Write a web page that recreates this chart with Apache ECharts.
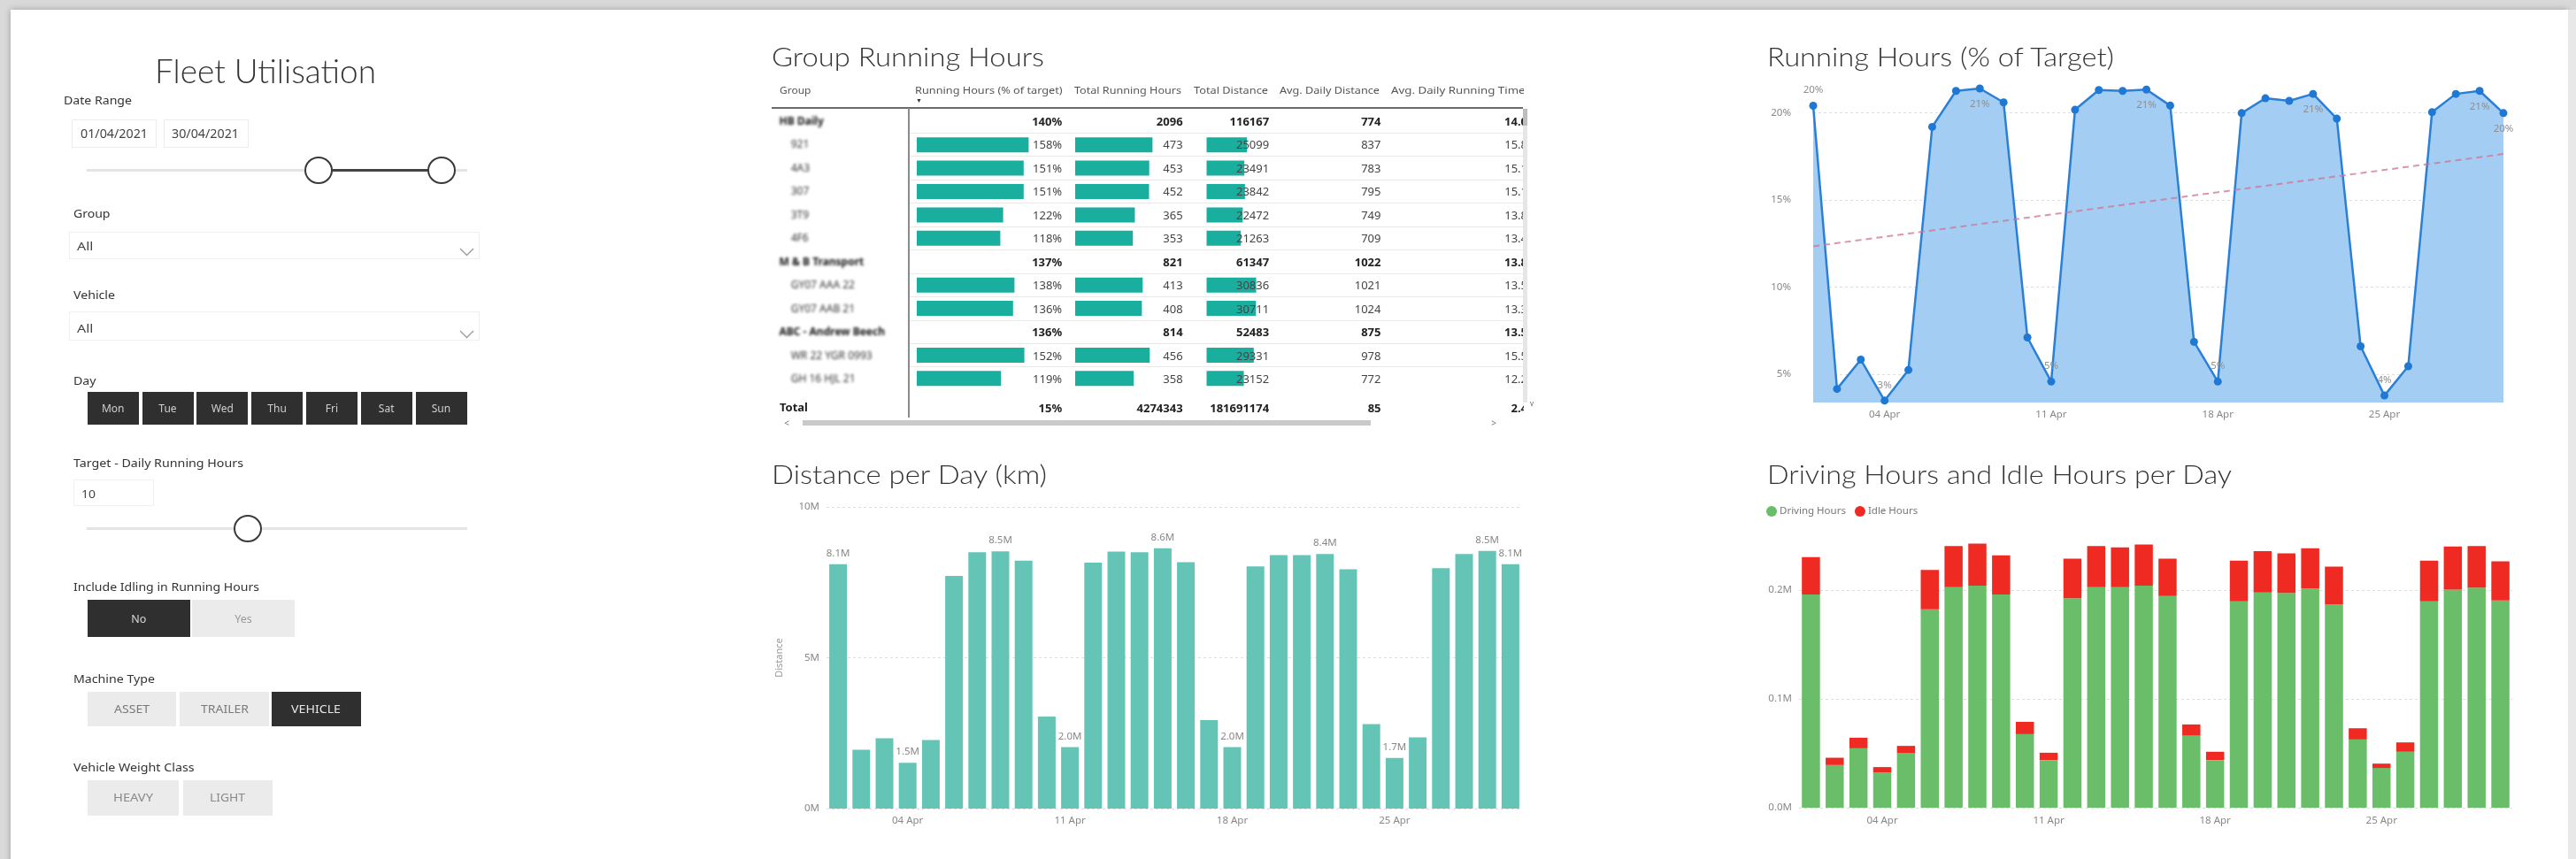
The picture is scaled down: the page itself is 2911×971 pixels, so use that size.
<!DOCTYPE html>
<html>
<head>
<meta charset="utf-8">
<title>Fleet Utilisation</title>
<script src="https://cdn.jsdelivr.net/npm/echarts@6.0.0/dist/echarts.min.js"></script>
<style>
html,body{margin:0;padding:0;}
body{width:2911px;height:971px;overflow:hidden;background:#d9d9d9;position:relative;font-family:'Noto Sans','Open Sans',sans-serif;}
#page{position:absolute;left:12px;top:11px;width:2890px;height:990px;background:#fff;box-shadow:0 0 7px rgba(0,0,0,0.28);}
#rightband{position:absolute;left:2902px;top:11px;width:9px;height:971px;background:#e8e8e8;}
#chart{position:absolute;left:0;top:0;width:2911px;height:971px;z-index:1;}
#ui{position:absolute;left:0;top:0;width:2911px;height:971px;z-index:2;pointer-events:none;}
.t{position:absolute;white-space:nowrap;line-height:1;}
</style>
</head>
<body>
<div id="page"></div>
<div id="rightband"></div>
<div id="chart"></div>
<div id="ui"></div>
<script>
// ---------------- DATA ----------------
const days = ['01 Apr','02 Apr','03 Apr','04 Apr','05 Apr','06 Apr','07 Apr','08 Apr','09 Apr','10 Apr',
  '11 Apr','12 Apr','13 Apr','14 Apr','15 Apr','16 Apr','17 Apr','18 Apr','19 Apr','20 Apr',
  '21 Apr','22 Apr','23 Apr','24 Apr','25 Apr','26 Apr','27 Apr','28 Apr','29 Apr','30 Apr'];
const xTickLabels = ['04 Apr','11 Apr','18 Apr','25 Apr'];
const labelDays = ['01 Apr','04 Apr','08 Apr','11 Apr','15 Apr','18 Apr','22 Apr','25 Apr','29 Apr','30 Apr'];

// Running Hours (% of Target)
const runningPct = [20.4,4.16,5.84,3.49,5.25,19.19,21.25,21.39,20.59,7.11,
  4.58,20.17,21.3,21.25,21.33,20.41,6.86,4.58,19.98,20.83,
  20.68,21.08,19.66,6.6,3.78,5.46,20.03,21.08,21.25,19.98];
const runningYTicks = [5,10,15,20];

// Distance per Day (km)
const distanceKm = [8100000,1950000,2330000,1520000,2270000,7710000,8500000,8530000,8220000,3050000,
  2040000,8150000,8520000,8500000,8630000,8170000,2930000,2040000,8030000,8400000,
  8400000,8440000,7930000,2800000,1680000,2360000,7970000,8440000,8540000,8100000];

// Driving Hours and Idle Hours per Day
const drivingHours = [196000,39200,54600,32400,50000,182400,202700,204100,196000,67600,
  43800,192400,202700,202700,204100,194600,66200,43800,189700,197800,
  197300,201400,187000,62700,36500,51400,189700,200500,202200,190500];
const idleHours = [34300,6700,9700,4900,6800,36000,37800,38600,35900,11300,
  6700,36500,37800,36500,37800,34300,10300,7600,37300,37900,
  36500,37000,34600,10300,4000,8600,37300,39500,38300,36000];
const hoursYTicks = [0,100000,200000];

// Group Running Hours table
const tableHeaders = ['Group','Running Hours (% of target)','Total Running Hours','Total Distance','Avg. Daily Distance','Avg. Daily Running Time'];
const rowNames = ['HB Daily','921','4A3','307','3T9','4F6','M & B Transport','GY07 AAA 22','GY07 AAB 21','ABC - Andrew Beech','WR 22 YGR 0993','GH 16 HJL 21','Total'];
const rowLevel = ['group','child','child','child','child','child','group','child','child','group','child','child','total'];
const pctTarget = [140,158,151,151,122,118,137,138,136,136,152,119,15];
const totalRunHours = [2096,473,453,452,365,353,821,413,408,814,456,358,4274343];
const totalDistance = [116167,25099,23491,23842,22472,21263,61347,30836,30711,52483,29331,23152,181691174];
const avgDailyDistance = [774,837,783,795,749,709,1022,1021,1024,875,978,772,85];
const avgDailyRunTime = [14.0,15.8,15.1,15.1,13.8,13.4,13.8,13.5,13.3,13.5,15.5,12.2,2.4];

// Slicers
const dayButtons = ['Mon','Tue','Wed','Thu','Fri','Sat','Sun'];
const machineTypes = ['ASSET','TRAILER','VEHICLE'];
const weightClasses = ['HEAVY','LIGHT'];

// ---------------- UI helpers ----------------
const ui = document.getElementById('ui');
const BASE = "'Noto Sans','Open Sans',sans-serif";
const TITLEF = "'Lato','Open Sans',sans-serif";
function box(x1,y1,x2,y2,css,parent){
  const d=document.createElement('div');
  d.style.cssText='position:absolute;box-sizing:border-box;left:'+x1+'px;top:'+y1+'px;width:'+(x2-x1)+'px;height:'+(y2-y1)+'px;'+(css||'');
  (parent||ui).appendChild(d); return d;
}
function txt(x,y,s,o){
  o=o||{};
  const parent=o.parent||ui;
  const d=document.createElement('div');
  d.className='t'; d.textContent=s;
  d.style.fontSize=(o.size||13)+'px';
  d.style.fontFamily=o.family||BASE;
  d.style.fontWeight=o.weight||400;
  d.style.color=o.color||'#333';
  if(o.blur) d.style.filter='blur('+o.blur+'px)';
  d.style.left='0px'; d.style.top='0px';
  parent.appendChild(d);
  const nat=d.getBoundingClientRect().width;
  const sx=o.w? o.w/nat : (o.sx||1);
  const al=o.align||'l';
  const left = al==='l'? x : (al==='r'? x-nat*sx : x-nat*sx/2);
  d.style.left=left+'px'; d.style.top=y+'px';
  d.style.transformOrigin='0 50%';
  d.style.transform='translateY(-50%) scaleX('+sx+')';
  return d;
}
function handle(cx,cy){ box(cx-16,cy-15.5,cx+16,cy+15.5,'border:2px solid #3a3a3a;border-radius:50%;background:#fff;'); }
function chevron(x,y){
  const d=box(x,y,x+17,y+10,'');
  d.innerHTML='<svg width="17" height="10"><polyline points="1,1 8.5,8.5 16,1" fill="none" stroke="#9a9a9a" stroke-width="1.3"/></svg>';
}
const DARK='#2f2f2f', LIGHTBTN='#ebebeb';

// ---------------- Left slicer panel ----------------
txt(300,79,'Fleet Utilisation',{size:37,family:TITLEF,weight:300,color:'#333',w:250,align:'c'});
txt(72,113,'Date Range',{size:13,w:77});
box(81,135,177,167,'border:1px solid #ececec;');
txt(90.5,152,'01/04/2021',{size:13.5,w:76,color:'#444'});
box(185,135,281,167,'border:1px solid #ececec;');
txt(194,152,'30/04/2021',{size:13.5,w:76,color:'#444'});
box(97.6,190.5,528,193.5,'background:#e4e4e4;');
box(360,190.5,499,193.5,'background:#444;');
handle(360,192); handle(499,192);

txt(82.5,241,'Group',{size:13,w:41.5});
box(78,262,542,293,'border:1px solid #efefef;');
txt(87,278,'All',{size:13,w:18.5,color:'#444'});
chevron(519,273);
txt(82.5,333,'Vehicle',{size:13,w:47});
box(78,352,542,385,'border:1px solid #efefef;');
txt(87,371,'All',{size:13,w:18.5,color:'#444'});
chevron(519,366);

txt(82.5,430,'Day',{size:13,w:25.5});
dayButtons.forEach((d,i)=>{
  const x1=98.7+i*61.8;
  box(x1,443,x1+58,480,'background:'+DARK+';');
  txt(x1+29,462,d,{size:12,color:'#cfcfcf',align:'c'});
});

txt(82.5,523,'Target - Daily Running Hours',{size:13,w:192});
box(82.5,542,173.5,572,'border:1px solid #f0f0f0;');
txt(92,558,'10',{size:13,color:'#444',w:16});
box(97.6,595.5,528,598.5,'background:#e4e4e4;');
handle(280,597);

txt(82.5,663,'Include Idling in Running Hours',{size:13,w:210});
box(98.7,678,214.7,720,'background:'+DARK+';');
txt(156.7,700,'No',{size:12.5,color:'#d8d8d8',align:'c'});
box(217,678,333,720,'background:'+LIGHTBTN+';');
txt(275,700,'Yes',{size:12.5,color:'#9a9a9a',align:'c'});

txt(82.5,767,'Machine Type',{size:13,w:92});
[[98.7,198.6],[203.2,304.2],[306.5,407.5]].forEach((p,i)=>{
  const sel = i===2;
  box(p[0],782,p[1],821,'background:'+(sel?DARK:LIGHTBTN)+';');
  txt((p[0]+p[1])/2,802,machineTypes[i],{size:12.5,color:sel?'#e6e6e6':'#7a7a7a',align:'c',w:[40,54,56][i]});
});

txt(82.5,867,'Vehicle Weight Class',{size:13,w:136.6});
[[98.7,202],[206.6,307.7]].forEach((p,i)=>{
  box(p[0],882,p[1],922,'background:'+LIGHTBTN+';');
  txt((p[0]+p[1])/2,902,weightClasses[i],{size:12.5,color:'#8a8a8a',align:'c',w:[45,40][i]});
});

// ---------------- Chart titles ----------------
const TCOL='#333';
txt(872,63,'Group Running Hours',{size:30,family:TITLEF,weight:300,color:TCOL,w:308});
txt(872,535,'Distance per Day (km)',{size:30,family:TITLEF,weight:300,color:TCOL,w:311});
txt(1997,63,'Running Hours (% of Target)',{size:30,family:TITLEF,weight:300,color:TCOL,w:392});
txt(1997,535,'Driving Hours and Idle Hours per Day',{size:30,family:TITLEF,weight:300,color:TCOL,w:525});

// ---------------- Table text ----------------
const CLIPL=1564, CLIPT=88;
const hdrX=[880.5,1033.5,1213.5,1348.5,1446,1572.3], hdrW=[35.4,166.7,121,84,113,151.6];
const clip = box(CLIPL,CLIPT,1722,490,'overflow:hidden;');
tableHeaders.forEach((h,i)=>{
  if(i===5) txt(hdrX[i]-CLIPL,102-CLIPT,h,{size:11.5,color:'#555',w:hdrW[i],parent:clip});
  else txt(hdrX[i],102,h,{size:11.5,color:'#555',w:hdrW[i]});
});
txt(1038.5,113,'\u25BC',{size:7,color:'#333',align:'c'});
box(872,121,1721,123,'background:#6a6a6a;');
box(1026,122,1027.5,472,'background:#8a8a8a;');
const rowY = rowNames.map((_,i)=> i<12 ? 137+i*26.45 : 461);
for(let i=1;i<12;i++){ box(1028,rowY[i]-13.5,1721,rowY[i]-12.5,'background:#e9e9e9;'); }
const colRight=[1200.2,1336.6,1434.2,1560.5];
rowNames.forEach((n,i)=>{
  const lv=rowLevel[i];
  const bold = lv!=='child';
  const col = bold?'#222':'#444';
  const wt = bold?700:400;
  if(lv==='total') txt(880.5,rowY[i],n,{size:12.5,weight:700,color:'#222',w:32});
  else txt(lv==='group'?880.5:893.7,rowY[i],n,{size:12,weight:wt,color:bold?'#111':'#333',blur:1.8});
  const vals=[pctTarget[i]+'%', String(totalRunHours[i]), String(totalDistance[i]), String(avgDailyDistance[i])];
  vals.forEach((v,c)=> txt(colRight[c],rowY[i],v,{size:13,weight:wt,color:col,align:'r'}));
  txt(1726-CLIPL,rowY[i]-CLIPT,avgDailyRunTime[i].toFixed(1),{size:13,weight:wt,color:col,align:'r',parent:clip});
});
// scrollbars
box(1721,123,1726,455,'background:#e6e6e6;');
box(1721,123,1726,142,'background:#bdbdbd;');
txt(1731,456,'v',{size:8,color:'#666',align:'c'});
box(907,475,1549,481,'background:#c9c9c9;');
txt(889,478,'<',{size:10,color:'#777',align:'c'});
txt(1688,478,'>',{size:10,color:'#777',align:'c'});

// ---------------- ECharts ----------------
const FONT = "'Noto Sans','Open Sans',sans-serif";
const chart = echarts.init(document.getElementById('chart'), null, {width:2911, height:971});

// linear trend of running %
const n=runningPct.length;
const mx=(n-1)/2, my=runningPct.reduce((a,b)=>a+b,0)/n;
let sxy=0,sxx=0; runningPct.forEach((v,i)=>{sxy+=(i-mx)*(v-my); sxx+=(i-mx)*(i-mx);});
const slope=sxy/sxx, icpt=my-slope*mx;
const trend = runningPct.map((_,i)=>+(icpt+slope*i).toFixed(3));

const GRIDLINE={lineStyle:{color:'#dedede',type:[3,3],width:1}};
const LBL={color:'#888',fontSize:11.5,fontFamily:FONT};
const catAxisBase = (gi,gap,margin)=>({
  gridIndex:gi,type:'category',data:days,boundaryGap:gap,
  axisLine:{show:false},axisTick:{show:false},splitLine:{show:false},
  axisLabel:Object.assign({interval:(i,v)=>xTickLabels.includes(v),margin:margin},LBL)
});
const rowCats = rowNames.slice(0,12);
const tblAxisX = (gi,max)=>({gridIndex:gi,type:'value',min:0,max:max,show:false});
const tblAxisY = (gi)=>({gridIndex:gi,type:'category',data:rowCats,inverse:true,show:false});
const childOnly = arr => arr.slice(0,12).map((v,i)=> rowLevel[i]==='child'? v : null);
const TEAL_TBL='#1aae9f';

const option = {
  animation:false,
  backgroundColor:'transparent',
  textStyle:{fontFamily:FONT},
  legend:{
    data:['Driving Hours','Idle Hours'], left:1996, top:572, icon:'circle',
    itemWidth:12,itemHeight:12,itemGap:10,padding:0,selectedMode:false,
    textStyle:{fontSize:11.5,color:'#777',fontFamily:FONT,padding:[0,0,0,-2]}
  },
  grid:[
    {left:2049,top:88,width:780,height:367,outerBoundsMode:'none'},
    {left:934,top:573,width:786,height:341,outerBoundsMode:'none'},
    {left:2033,top:605.5,width:806,height:307.5,outerBoundsMode:'none'},
    {left:1036,top:124,width:160,height:317,outerBoundsMode:'none'},
    {left:1215,top:124,width:121,height:317,outerBoundsMode:'none'},
    {left:1363.5,top:124,width:70.7,height:317,outerBoundsMode:'none'}
  ],
  xAxis:[
    catAxisBase(0,false,8),
    catAxisBase(1,true,8),
    catAxisBase(2,true,9),
    tblAxisX(3,200), tblAxisX(4,655), tblAxisX(5,38900)
  ],
  yAxis:[
    {gridIndex:0,type:'value',min:3.38,max:22,axisLine:{show:false},
     axisTick:{show:false,customValues:runningYTicks},
     axisLabel:Object.assign({customValues:runningYTicks,formatter:v=>v+'%',margin:25},LBL),
     splitLine:GRIDLINE},
    {gridIndex:1,type:'value',min:0,max:10000000,interval:5000000,axisLine:{show:false},axisTick:{show:false},
     axisLabel:Object.assign({formatter:v=>(v/1e6)+'M',margin:8},LBL),
     splitLine:GRIDLINE,
     name:'Distance',nameLocation:'middle',nameGap:48,nameRotate:90,
     nameTextStyle:{color:'#999',fontSize:11,fontFamily:FONT}},
    {gridIndex:2,type:'value',min:0,max:250000,axisLine:{show:false},
     axisTick:{show:false,customValues:hoursYTicks},
     axisLabel:Object.assign({customValues:hoursYTicks,formatter:v=>(v/1e6).toFixed(1)+'M',margin:8},LBL),
     splitLine:GRIDLINE},
    tblAxisY(3), tblAxisY(4), tblAxisY(5)
  ],
  series:[
    {
      name:'Running Hours %', type:'line', xAxisIndex:0, yAxisIndex:0,
      data: runningPct.map((v,i)=>({value:v,label:{show:labelDays.includes(days[i]),position:(i===0||v<12)?'top':'bottom'}})),
      symbol:'circle', symbolSize:9, showAllSymbol:true,
      lineStyle:{color:'#2a7fd6',width:2.5},
      itemStyle:{color:'#1f78d4'},
      areaStyle:{color:'#a4cdf4',opacity:1,origin:'start'},
      label:{formatter:p=>Math.round(p.value)+'%',color:'#8f8f8f',fontSize:11.5,distance:7,fontFamily:FONT},
      z:2
    },
    {
      name:'Trend', type:'line', xAxisIndex:0, yAxisIndex:0, data:trend,
      symbol:'none', silent:true,
      lineStyle:{color:'rgba(205,115,145,0.75)',width:2,type:[7,5]}, z:3
    },
    {
      name:'Distance', type:'bar', xAxisIndex:1, yAxisIndex:1, data:distanceKm, barWidth:20,
      itemStyle:{color:'#64c5b7'},
      label:{show:true,position:'top',distance:6,color:'#888',fontSize:11.5,fontFamily:FONT,
        formatter:p=> labelDays.includes(p.name) ? (p.value/1e6).toFixed(1)+'M' : ''}
    },
    {
      name:'Driving Hours', type:'bar', stack:'hrs', xAxisIndex:2, yAxisIndex:2, data:drivingHours, barWidth:20.5,
      itemStyle:{color:'#6abe69'}
    },
    {
      name:'Idle Hours', type:'bar', stack:'hrs', xAxisIndex:2, yAxisIndex:2, data:idleHours, barWidth:20.5,
      itemStyle:{color:'#ef2a22'}
    },
    {type:'bar',xAxisIndex:3,yAxisIndex:3,data:childOnly(pctTarget),barWidth:17,itemStyle:{color:TEAL_TBL},silent:true},
    {type:'bar',xAxisIndex:4,yAxisIndex:4,data:childOnly(totalRunHours),barWidth:17,itemStyle:{color:TEAL_TBL},silent:true},
    {type:'bar',xAxisIndex:5,yAxisIndex:5,data:childOnly(totalDistance),barWidth:17,itemStyle:{color:TEAL_TBL},silent:true}
  ]
};
chart.setOption(option);
</script>
</body>
</html>
